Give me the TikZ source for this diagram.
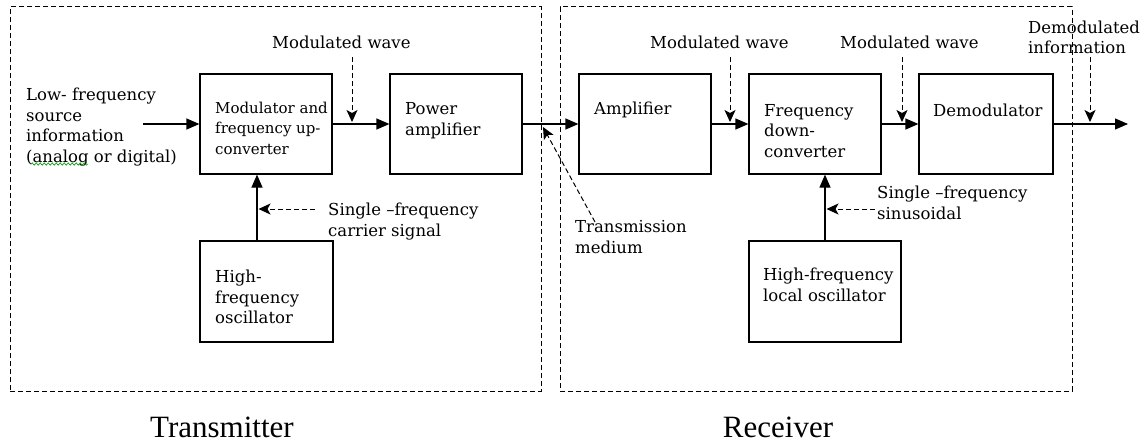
\documentclass[tikz,border=0pt]{standalone}
\usepackage{fontspec}
\setmainfont{DejaVu Serif}
\newfontfamily\bigfont{Liberation Serif}
\usetikzlibrary{arrows.meta,decorations.pathmorphing}
\tikzset{
  blk/.style={draw, line width=1.2pt, inner sep=0pt},
  frame/.style={draw, line width=1pt, dash pattern=on 5pt off 3pt, inner sep=0pt},
  lbl/.style={font=\fontsize{16.5}{20.5}\selectfont, inner sep=0pt, align=left, anchor=west},
  biglbl/.style={font=\bigfont\fontsize{31}{31}\selectfont, inner sep=0pt, anchor=base},
  sig/.style={line width=1.2pt, -{Triangle[length=13pt,width=11pt]}},
  note/.style={line width=1pt, dash pattern=on 5pt off 3pt, -{Stealth[length=12pt,width=11pt,inset=3pt]}},
}
\begin{document}
\begin{tikzpicture}[x=1pt,y=-1pt]
\useasboundingbox (0,0) rectangle (1148,444);
% frames
\node[frame, minimum width=531pt, minimum height=384pt] (tx) at (275.5,199) {};
\node[frame, minimum width=512pt, minimum height=384pt] (rx) at (816,199) {};
% blocks
\node[blk, minimum width=132pt, minimum height=100pt] (mod) at (266,124) {};
\node[blk, minimum width=132pt, minimum height=100pt] (pa)  at (456,124) {};
\node[blk, minimum width=132pt, minimum height=100pt] (amp) at (645,124) {};
\node[blk, minimum width=132pt, minimum height=100pt] (fdc) at (815,124) {};
\node[blk, minimum width=134pt, minimum height=100pt] (dem) at (986,124) {};
\node[blk, minimum width=133pt, minimum height=101pt] (hfo) at (266.5,291.5) {};
\node[blk, minimum width=152pt, minimum height=101pt] (lo)  at (825,291.5) {};
% block texts
\node[lbl, font=\fontsize{15}{20.5}\selectfont] (modt) at (215,128) {Modulator and\\frequency up-\\converter};
\node[lbl] (pat)  at (405,120.5) {Power\\amplifier};
\node[lbl] (ampt) at (594,110) {Amplifier};
\node[lbl] (fdct) at (764,131) {Frequency\\down-\\converter};
\node[lbl] (demt) at (933,110) {Demodulator};
\node[lbl] (hfot) at (215,297) {High-\\frequency\\oscillator};
\node[lbl] (lot)  at (763,285) {High-frequency\\local oscillator};
% other labels
\node[lbl] (src) at (26,127) {Low- frequency\\source\\information\\(analog or digital)};
\draw[green!60!black, line width=0.6pt, decorate, decoration={snake, amplitude=1.2pt, segment length=4pt}] (src.south west) ++(5,-2) coordinate (sq1) -- ++(57,0) coordinate (sq2);
\node[lbl] (mw1) at (272,42) {Modulated wave};
\node[lbl] (mw2) at (650,42) {Modulated wave};
\node[lbl] (mw3) at (840,42) {Modulated wave};
\node[lbl] (dinf) at (1028,37.5) {Demodulated\\information};
\node[lbl] (car) at (328,221.5) {Single –frequency\\carrier signal};
\node[lbl] (sin) at (877,203) {Single –frequency\\sinusoidal};
\node[lbl] (tm) at (575,237) {Transmission\\medium};
\node[biglbl] (txl) at (222,437) {Transmitter};
\node[biglbl] (rxl) at (778,437) {Receiver};
% signal path
\coordinate (in) at (143,124);
\coordinate (out) at (1128,124);
\draw[sig] (in) -- (mod.west);
\draw[sig] (mod.east) -- (pa.west);
\draw[sig] (pa.east) -- (amp.west);
\draw[sig] (amp.east) -- (fdc.west);
\draw[sig] (fdc.east) -- (dem.west);
\draw[sig] (dem.east) -- (out);
\coordinate (hx) at (257,0);
\coordinate (lx) at (825,0);
\draw[sig] (hfo.north -| hx) -- (mod.south -| hx);
\draw[sig] (lo.north -| lx) -- (fdc.south -| lx);
% annotation arrows
\coordinate (n1) at (352,57);  \coordinate (e1) at (352,122);
\coordinate (n2) at (730,57);  \coordinate (e2) at (730,122);
\coordinate (n3) at (902,57);  \coordinate (e3) at (902,122);
\coordinate (n4) at (1090,57); \coordinate (e4) at (1090,122);
\draw[note] (n1) -- (e1);
\draw[note] (n2) -- (e2);
\draw[note] (n3) -- (e3);
\draw[note] (n4) -- (e4);
\coordinate (c1) at (315,209); \coordinate (c2) at (258.5,209);
\draw[note] (c1) -- (c2);
\coordinate (s1) at (875,209); \coordinate (s2) at (826.5,209);
\draw[note] (s1) -- (s2);
\coordinate (t1) at (595,222); \coordinate (t2) at (543,127);
\draw[note] (t1) -- (t2);
\end{tikzpicture}
\end{document}
